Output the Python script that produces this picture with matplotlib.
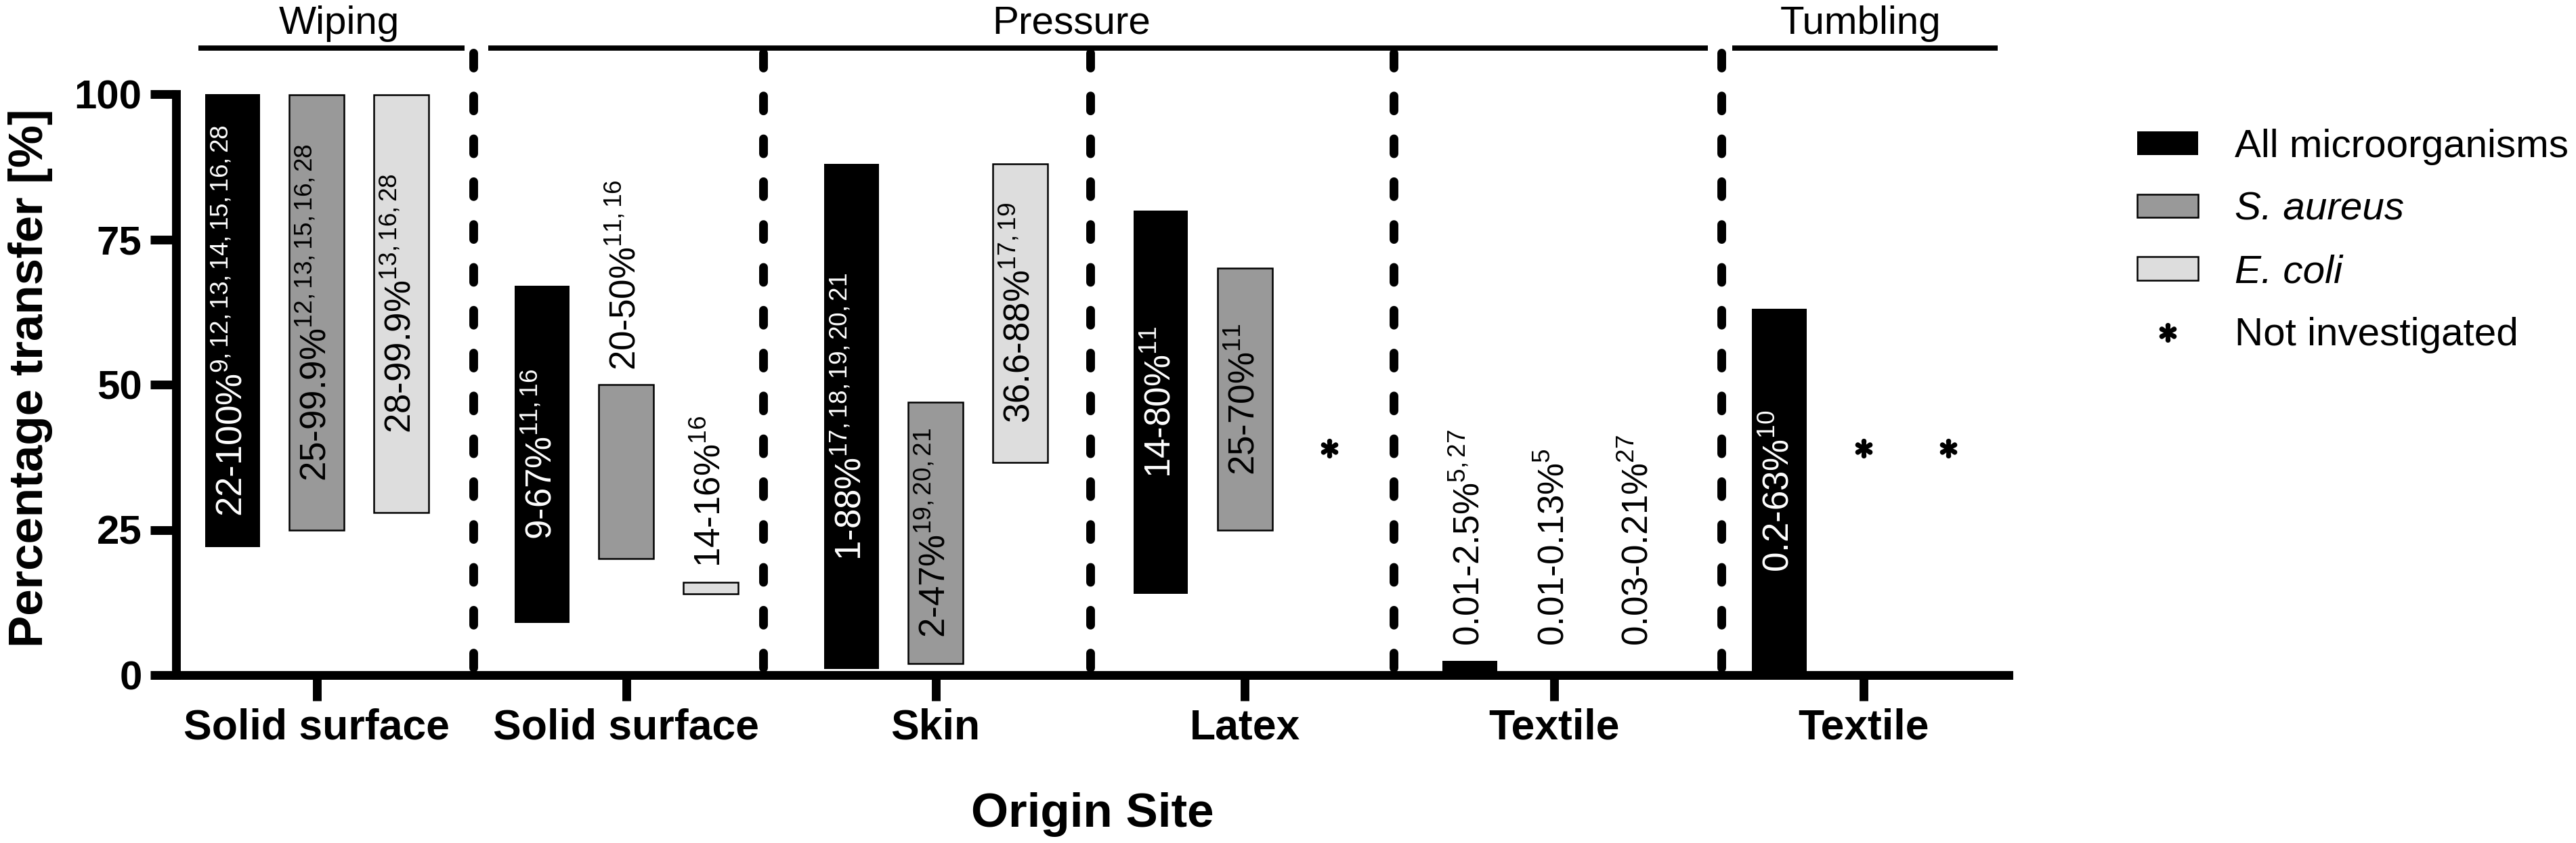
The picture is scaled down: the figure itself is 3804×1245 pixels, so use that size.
import matplotlib
matplotlib.use("Agg")
import matplotlib.pyplot as plt
from matplotlib.patches import Patch
from matplotlib.lines import Line2D
import numpy as np

plt.rcParams['font.family'] = ['Liberation Sans', 'DejaVu Sans']
plt.rcParams['mathtext.fontset'] = 'custom'
plt.rcParams['mathtext.rm'] = 'Liberation Sans'
plt.rcParams['mathtext.it'] = 'Liberation Sans:italic'
plt.rcParams['mathtext.bf'] = 'Liberation Sans:bold'

# origin sites (x categories)
sites = ['Solid surface', 'Solid surface', 'Skin', 'Latex', 'Textile', 'Textile']
series = ['All microorganisms', 'S. aureus', 'E. coli']
# transfer ranges in % (None = not investigated)
all_lo = [22, 9, 1, 14, 0.01, 0.2]
all_hi = [100, 67, 88, 80, 2.5, 63]
sa_lo = [25, 20, 2, 25, 0.01, None]
sa_hi = [99.9, 50, 47, 70, 0.13, None]
ec_lo = [28, 14, 36.6, None, 0.03, None]
ec_hi = [99.9, 16, 88, None, 0.21, None]
# references shown as superscripts
all_ref = ['9,12,13,14,15,16,28', '11,16', '17,18,19,20,21', '11', '5,27', '10']
sa_ref = ['12,13,15,16,28', '11,16', '19,20,21', '11', '5', None]
ec_ref = ['13,16,28', '16', '17,19', None, '27', None]
# transfer methods over the sites
methods = ['Wiping', 'Pressure', 'Tumbling']

def fmt(v):
    return ('%g' % v)

fig = plt.figure(figsize=(3804/300, 1245/300), dpi=300)
ax = fig.add_axes([260/3804, 1-997/1245, 2706/3804, 858/1245])

x = np.arange(len(sites))
off = 0.2725
w = 0.177
cols = ['black', '#999999', '#dddddd']
edges = ['black', 'black', 'black']
lws = [0, 0.6, 0.6]
los = [all_lo, sa_lo, ec_lo]
his = [all_hi, sa_hi, ec_hi]
refs = [all_ref, sa_ref, ec_ref]

for k in range(3):
    for i in range(len(sites)):
        lo = los[k][i]
        hi = his[k][i]
        xp = x[i] + (k-1)*off
        if lo is None:
            # not investigated
            ax.plot(xp, 39, marker=r'$\ast$', color='black', ms=6, ls='none',
                    zorder=4)
            continue
        ax.bar(xp, hi-lo, bottom=lo, width=w, color=cols[k], edgecolor=edges[k],
               linewidth=lws[k], zorder=3)
        txt = fmt(lo) + '-' + fmt(hi) + '%$^{\\mathregular{' + refs[k][i] + '}}$'
        if hi - lo > 40:
            tc = 'white' if k == 0 else 'black'
            ax.text(xp, (lo+hi)/2, txt, rotation=90, ha='center', va='center',
                    color=tc, fontsize=12.7, zorder=5)
        else:
            ax.text(xp, max(hi+2.5, 5), txt, rotation=90, ha='center', va='bottom',
                    color='black', fontsize=12.7, zorder=5)

ax.set_xlim(-0.455, 5.468)
ax.set_ylim(0, 100)
ax.set_yticks([0, 25, 50, 75, 100])
ax.set_xticks(x)
ax.set_xticklabels(sites, fontsize=15, fontweight='bold')
for t in ax.get_yticklabels():
    t.set_fontsize(14.4)
    t.set_fontweight('bold')
ax.tick_params(axis='both', length=9.2, width=3.1, color='black')
ax.tick_params(axis='x', pad=2.5)
ax.tick_params(axis='y', pad=2.9)
for s in ['top', 'right']:
    ax.spines[s].set_visible(False)
for s in ['left', 'bottom']:
    ax.spines[s].set_linewidth(3.1)
    ax.spines[s].set_capstyle('projecting')

# dashed dividers between sites
dividers = [0.505, 1.442, 2.50, 3.48, 4.54]
for d in dividers:
    ax.plot([d, d], [107.1, 0], color='black', lw=3.1, ls=(0, (1.7, 3.2)),
            dash_capstyle='round', clip_on=False, zorder=2)

# method brackets on top
seg_x = [(-0.383, 0.477), (0.554, 4.497), (4.575, 5.433)]
lab_x = [0.072, 2.44, 4.99]
for m, (a, b), lx in zip(methods, seg_x, lab_x):
    ax.plot([a, b], [107.9, 107.9], color='black', lw=1.85, clip_on=False,
            solid_capstyle='butt')
    ax.text(lx, 110.4, m, ha='center', va='baseline', fontsize=14)

fig.text(45/3804, 1-558/1245, 'Percentage transfer [%]', rotation=90,
         ha='center', va='center', fontsize=17, fontweight='bold')
fig.text(1613/3804, 1-1221/1245, 'Origin Site', ha='center', va='baseline',
         fontsize=17, fontweight='bold')

handles = [Patch(facecolor='black', edgecolor='black', linewidth=0),
           Patch(facecolor='#999999', edgecolor='black', linewidth=0.6),
           Patch(facecolor='#dddddd', edgecolor='black', linewidth=0.6),
           Line2D([], [], ls='none', marker=r'$\ast$', color='black', ms=6)]
labels = series + ['Not investigated']
leg = fig.legend(handles, labels, loc='upper left',
                 bbox_to_anchor=(3156/3804, 1-190/1245), frameon=False,
                 fontsize=14, borderpad=0, borderaxespad=0,
                 handlelength=1.54, handleheight=0.53, handletextpad=0.93,
                 labelspacing=0.66)
leg.get_texts()[1].set_fontstyle('italic')
leg.get_texts()[2].set_fontstyle('italic')

fig.savefig('out.png', dpi=300)
